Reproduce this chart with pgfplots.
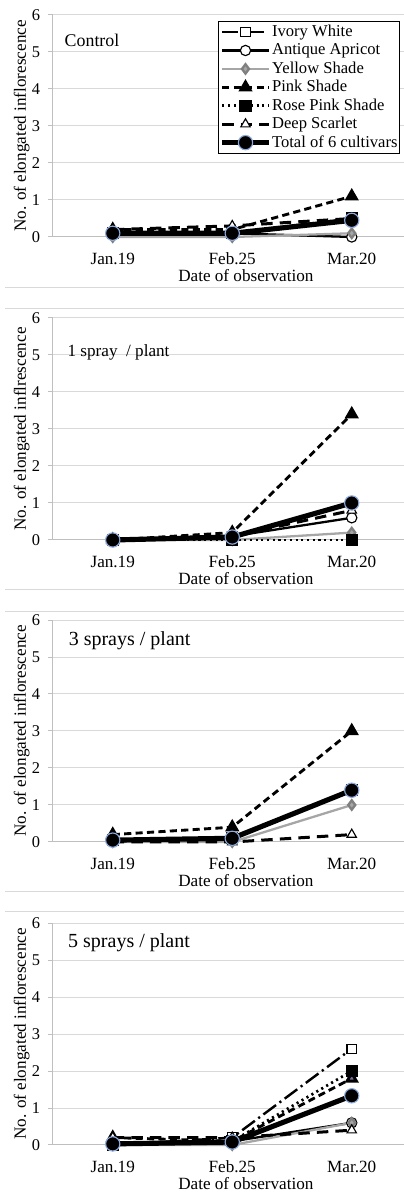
\documentclass[border=0pt]{standalone}
\usepackage{fontspec}
\setmainfont{Liberation Serif}
\usepackage{pgfplots}
\pgfplotsset{compat=1.18}
\definecolor{gridgray}{HTML}{D9D9D9}
\definecolor{axisgray}{HTML}{BFBFBF}
\definecolor{ysgray}{HTML}{A6A6A6}
\definecolor{ring}{HTML}{8EA9DB}
\definecolor{psviolet}{HTML}{8064A2}

% 1 px of the reference = 0.7pt
\pgfplotsset{
  panel/.style={
    scale only axis, width=250.95pt, height=155.4pt,
    anchor=south west,
    xmin=0.5, xmax=3.5, ymin=0, ymax=6,
    xtick={1,2,3}, xticklabels={Jan.19,Feb.25,Mar.20},
    ytick={0,...,6},
    axis x line*=bottom, axis y line*=left,
    axis line style={axisgray, line width=0.7pt, -},
    ymajorgrids, grid style={gridgray, line width=0.7pt},
    xtick style={draw=none},
    ytick style={axisgray, line width=0.7pt},
    tick align=outside, major tick length=3.5pt,
    /pgf/number format/assume math mode=true,
    xticklabel style={font=\fontsize{12}{14}\selectfont, yshift=-4pt},
    yticklabel style={font=\fontsize{11.5}{13}\selectfont, xshift=-2pt},
    xlabel={Date of observation},
    label style={font=\fontsize{12}{14}\selectfont},
    xlabel style={at={(axis description cs:0.538,0)}, anchor=center, yshift=-27.3pt},
    ylabel style={at={(axis description cs:0,0.5)}, anchor=center, yshift=22pt},
    clip=false,
  },
  iw/.style={black, line width=1.7pt, dash pattern=on 11pt off 3pt on 1.5pt off 3pt,
    mark=square*, mark size=3.3pt, mark options={solid, fill=white, line width=0.8pt}},
  aa/.style={black, line width=1.6pt, solid,
    mark=*, mark size=3.6pt, mark options={solid, fill=white, line width=0.8pt}},
  ys/.style={ysgray, line width=1.6pt, solid,
    mark=diamond*, mark size=3.3pt, mark options={solid, fill=ysgray, draw=gray}},
  ps/.style={black, line width=2pt, dash pattern=on 5pt off 3pt,
    mark=triangle*, mark size=3.8pt, mark options={solid, fill=black}},
  rp/.style={black, line width=1.9pt, dash pattern=on 1.5pt off 2.5pt,
    mark=square*, mark size=3.3pt, mark options={solid, fill=black}},
  ds/.style={black, line width=2.1pt, dash pattern=on 8pt off 5pt,
    mark=triangle*, mark size=3.8pt, mark options={solid, fill=white, line width=0.8pt}},
  tot/.style={black, line width=3.6pt, solid,
    mark=*, mark size=5pt, mark options={solid, fill=black, draw=ring, line width=0.8pt}},
}

\begin{document}
\begin{tikzpicture}

% ---- Control
\begin{axis}[panel, at={(37.1pt,668.5pt)},
    ylabel={No. of elongated inflorescence},
    legend style={at={(axis description cs:0.46,0.973)}, anchor=north west,
      draw=black, line width=0.6pt, fill=white,
      font=\fontsize{11.6}{12}\selectfont, inner sep=1pt, row sep=0pt,
      nodes={inner sep=0.6pt, text height=9pt, text depth=2.7pt}},
    legend cell align=left,
    legend image code/.code={\draw[mark repeat=2, mark phase=2]
      plot coordinates {(0cm,0cm) (0.57cm,0cm) (1.14cm,0cm)};}]
\addplot[iw] coordinates {(1,0.1) (2,0.1) (3,0.5)};
\addlegendentry{Ivory White}
\addplot[aa] coordinates {(1,0.1) (2,0.1) (3,0.0)};
\addlegendentry{Antique Apricot}
\addplot[ys] coordinates {(1,0.0) (2,0.0) (3,0.1)};
\addlegendentry{Yellow Shade}
\addplot[ps] coordinates {(1,0.2) (2,0.2) (3,1.1)};
\addlegendentry{Pink Shade}
\addplot[rp] coordinates {(1,0.1) (2,0.1) (3,0.5)};
\addlegendentry{Rose Pink Shade}
\addplot[ds] coordinates {(1,0.2) (2,0.3) (3,0.5)};
\addlegendentry{Deep Scarlet}
\addplot[tot] coordinates {(1,0.1) (2,0.1) (3,0.45)};
\addlegendentry{Total of 6 cultivars}
\node[anchor=west, font=\fontsize{12.5}{14}\selectfont] at (axis cs:0.556,5.30) {Control};
\end{axis}

% ---- 1 spray
\begin{axis}[panel, at={(37.1pt,456.4pt)},
    ylabel={No. of elongated inflrescence}]
\addplot[iw] coordinates {(1,0) (2,0.1) (3,1.0)};
\addplot[aa] coordinates {(1,0) (2,0.1) (3,0.6)};
\addplot[ys] coordinates {(1,0) (2,0.0) (3,0.2)};
\addplot[ps] coordinates {(1,0) (2,0.2) (3,3.4)};
\addplot[rp] coordinates {(1,0) (2,0.0) (3,0.0)};
\addplot[ds] coordinates {(1,0) (2,0.1) (3,0.8)};
\addplot[tot] coordinates {(1,0) (2,0.08) (3,1.0)};
\node[anchor=west, font=\fontsize{12}{14}\selectfont] at (axis cs:0.58,5.08) {1 spray\ \ / plant};
\end{axis}

% ---- 3 sprays
\begin{axis}[panel, at={(37.1pt,245pt)},
    ylabel={No. of elongated inflorescence}]
\addplot[iw] coordinates {(1,0.05) (2,0.1) (3,1.4)};
\addplot[aa] coordinates {(1,0.05) (2,0.1) (3,1.4)};
\addplot[ys] coordinates {(1,0.0) (2,0.0) (3,1.0)};
\addplot[ps] coordinates {(1,0.2) (2,0.4) (3,3.0)};
\addplot[rp] coordinates {(1,0.05) (2,0.1) (3,1.4)};
\addplot[ds] coordinates {(1,0.0) (2,0.0) (3,0.2)};
\addplot[tot] coordinates {(1,0.05) (2,0.1) (3,1.4)};
\node[anchor=west, font=\fontsize{14}{16}\selectfont] at (axis cs:0.59,5.43) {3 sprays / plant};
\end{axis}

% ---- 5 sprays
\begin{axis}[panel, at={(37.1pt,32.9pt)},
    ylabel={No. of elongated inflorescence}]
\addplot[iw] coordinates {(1,0.0) (2,0.2) (3,2.6)};
\addplot[aa] coordinates {(1,0.0) (2,0.1) (3,0.6)};
\addplot[ys] coordinates {(1,0.0) (2,0.0) (3,0.6)};
\addplot[ps, mark options={solid, fill=psviolet, draw=black}] coordinates {(1,0.2) (2,0.1) (3,1.8)};
\addplot[rp] coordinates {(1,0.0) (2,0.1) (3,2.0)};
\addplot[ds] coordinates {(1,0.2) (2,0.2) (3,0.4)};
\addplot[tot] coordinates {(1,0.03) (2,0.08) (3,1.33)};
\node[anchor=west, font=\fontsize{14}{16}\selectfont] at (axis cs:0.585,5.46) {5 sprays / plant};
\end{axis}

% frames of the four charts
\foreach \yy in {632.8,618.1,421.4,406,210,196}
  \draw[gridgray, line width=0.7pt] (3.5pt,\yy pt) -- (282.8pt,\yy pt);

\pgfresetboundingbox
\useasboundingbox (0,0) rectangle (282.8pt,834.4pt);
\end{tikzpicture}
\end{document}
